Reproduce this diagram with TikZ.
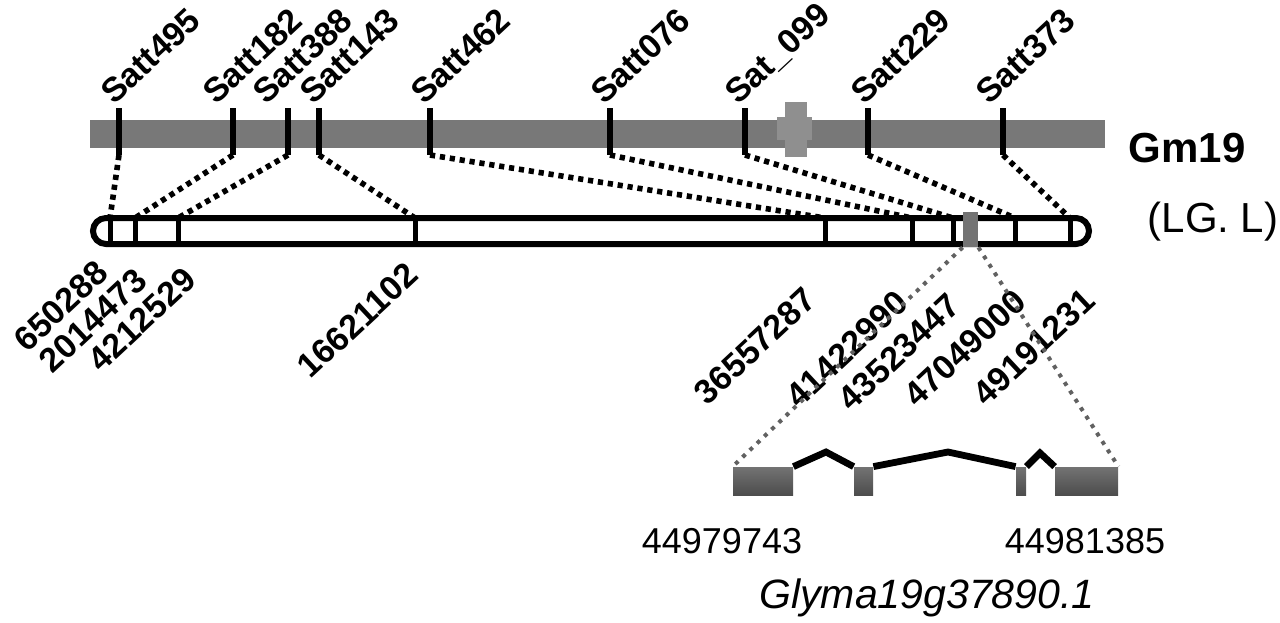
\documentclass[tikz,border=0pt]{standalone}
\usepackage{fontspec}
\setmainfont{Liberation Sans}
\usetikzlibrary{positioning}
\definecolor{chromgray}{gray}{0.47}
\definecolor{cengray}{gray}{0.56}
\definecolor{boxgray}{gray}{0.45}
\definecolor{linkgray}{gray}{0.38}

\begin{document}
\begin{tikzpicture}[x=0.5pt, y=-0.5pt]
	\tikzstyle{marker} = [font=\fontsize{17}{20}\selectfont\bfseries, rotate=43, anchor=base west, inner sep=0pt]
	\tikzstyle{position} = [font=\fontsize{17}{20}\selectfont\bfseries, rotate=43, anchor=north east, inner sep=0pt]
	\tikzstyle{tick} = [line width=3.2pt]
	\tikzstyle{divider} = [line width=2.5pt]
	\tikzstyle{link} = [line width=2.8pt, dash pattern=on 2.6pt off 2.4pt]
	\tikzstyle{zoomlink} = [line width=2pt, linkgray, dash pattern=on 2pt off 3pt]
	\tikzstyle{exon} = [minimum height=14pt, inner sep=0pt, top color=black!55, middle color=black!38, bottom color=black!70]
	\tikzstyle{intron} = [line width=3.4pt]
	\useasboundingbox (0,0) rectangle (1280,622);

	% Gm19 chromosome
	\fill[chromgray] (90,120) rectangle (1105,148);
	\fill[cengray] (785,102) rectangle (807,157);
	\fill[cengray] (777,117) rectangle (812,140);
	\node[font=\fontsize{21}{25}\selectfont\bfseries] (gm) at (1187,148) {Gm19};
	\node[font=\fontsize{21}{25}\selectfont] (lg) at (1213,222) {(LG. L)};

	% SSR markers
	\foreach \i/\tx/\lx/\mname in {1/119/114/Satt495, 2/233/216/Satt182, 3/288/266/Satt388, 4/319/313/Satt143, 5/430/424/Satt462, 6/610/604/Satt076, 7/745/738/Sat\_099, 8/868/864/Satt229, 9/1003/989/Satt373} {
		\coordinate (s\i) at (\tx,108);
		\coordinate (t\i) at (\tx,155);
		\draw[tick] (s\i) -- (t\i);
		\node[marker] (m\i) at (\lx,106) {\mname};
	}

	% physical map
	\foreach \i/\dx in {1/110, 2/135, 3/178, 4/415, 5/825, 6/912, 7/953, 8/1015, 9/1070} {
		\coordinate (d\i) at (\dx,218);
		\coordinate (b\i) at (\dx,244);
		\path (t\i) edge[link] (d\i);
	}
	\draw[line width=3pt, fill=white, rounded corners=6.5pt] (93,218) rectangle (1089,244);
	\foreach \i in {1,...,9}
		\draw[divider] (d\i) -- (b\i);
	\foreach \i/\nx/\ny/\num in {1/94/258/650288, 2/133/266/2014473, 3/182/265/4212529, 4/404/260/16621102, 5/802/285/36557287, 6/894/288/41422990, 7/946/291/43523447, 8/1012/287/47049000, 9/1081/286/49191231}
		\node[position] (p\i) at (\nx,\ny) {\num};
	\node[fill=boxgray, minimum width=7.5pt, minimum height=17.5pt, inner sep=0pt] (gbox) at (970.5,229.5) {};

	% gene model
	\node[exon, minimum width=30pt] (e1) at (763,481) {};
	\node[exon, minimum width=9.5pt] (e2) at (863.5,481) {};
	\node[exon, minimum width=5pt] (e3) at (1021,481) {};
	\node[exon, minimum width=31.5pt] (e4) at (1086.5,481) {};
	\coordinate (i1) at (826,452);
	\coordinate (i2) at (948,452);
	\coordinate (i3) at (1040,453);
	\draw[intron] (e1.north east) -- (i1) -- (e2.north west);
	\draw[intron] (e2.north east) -- (i2) -- (e3.north west);
	\draw[intron] (e3.north east) -- (i3) -- (e4.north west);
	\draw[zoomlink] (gbox.south west) -- (e1.north west);
	\draw[zoomlink] (gbox.south east) -- (e4.north east);
	\node[font=\fontsize{18}{22}\selectfont] (start) at (722,541) {44979743};
	\node[font=\fontsize{18}{22}\selectfont] (end) at (1085,541) {44981385};
	\node[font=\fontsize{20.5}{24}\selectfont\itshape] (gene) at (927,598) {Glyma19g37890.1};
\end{tikzpicture}
\end{document}
